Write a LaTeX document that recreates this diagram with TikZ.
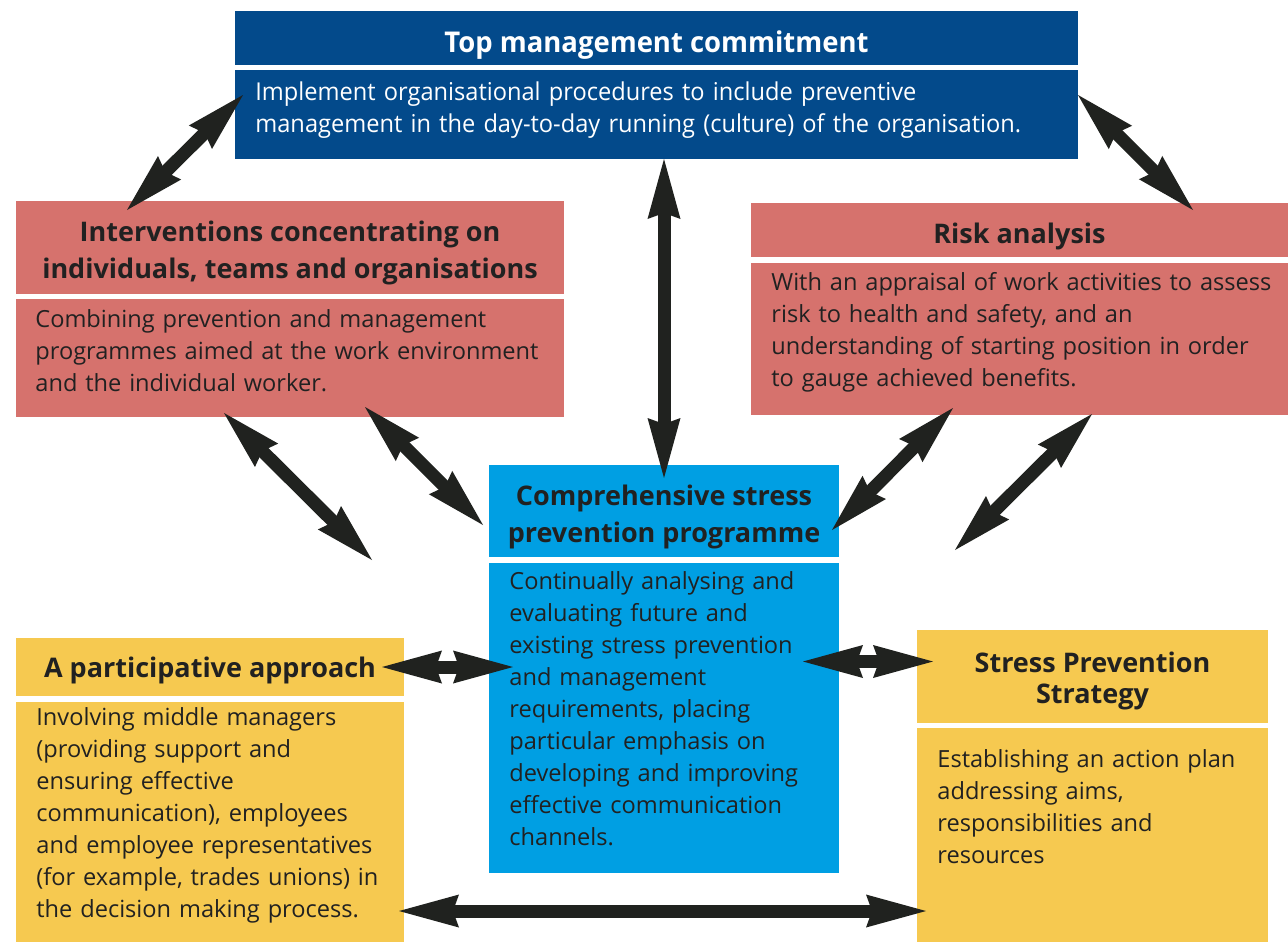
\documentclass[tikz,border=0pt]{standalone}
\usepackage{fontspec}
\setmainfont{Open Sans}
\newfontfamily\narrowsans[FakeStretch=0.96]{Open Sans}
\usetikzlibrary{arrows.meta,calc}

\definecolor{mgmtblue}{RGB}{3,74,139}
\definecolor{riskred}{RGB}{214,114,109}
\definecolor{progblue}{RGB}{0,159,227}
\definecolor{partyellow}{RGB}{246,201,80}
\definecolor{arrowink}{RGB}{32,34,31}
\definecolor{ink}{RGB}{33,33,33}

\tikzset{
  panel/.style={anchor=north west,inner sep=0pt,outer sep=0pt},
  headtitle/.style={inner sep=0pt,align=center,text=ink,font=\bfseries\fontsize{13.5}{18.5}\selectfont},
  bodytxt/.style={anchor=base west,inner sep=0pt,align=left,text width=300pt,
    text=ink,font=\fontsize{11.8}{16}\selectfont},
  dbl/.style={draw=arrowink,line width=6.5pt,
    {Stealth[length=30pt,width=16.5pt,inset=3pt,line width=0pt]}-{Stealth[length=30pt,width=16.5pt,inset=3pt,line width=0pt]}},
}

\begin{document}
\begin{tikzpicture}[x=0.5pt,y=-0.5pt]
\useasboundingbox (0,0) rectangle (1288,942);

% top management commitment
\node[panel,fill=mgmtblue,minimum width=421.5pt,minimum height=27pt] (tophead) at (235,11) {};
\node[headtitle,text=white,font=\narrowsans\bfseries\fontsize{14.3}{18}\selectfont] (toptitle)
  at ($(tophead.center)+(0,7)$) {Top management commitment};
\node[panel,fill=mgmtblue,minimum width=421.5pt,minimum height=44.5pt] (topbody) at (235,70) {};
\node[bodytxt,text width=410pt,text=white,font=\narrowsans\fontsize{12.3}{16}\selectfont] (toptxt)
  at ($(topbody.north west)+(20,30)$)
  {Implement organisational procedures to include preventive\\
   management in the day-to-day running (culture) of the organisation.};

% interventions
\node[panel,fill=riskred,minimum width=274pt,minimum height=46.5pt] (inthead) at (16,201) {};
\node[headtitle] (inttitle) at ($(inthead.center)+(0,5)$)
  {Interventions concentrating on\\individuals, teams and organisations};
\node[panel,fill=riskred,minimum width=274pt,minimum height=59pt] (intbody) at (16,299) {};
\node[bodytxt] (inttxt) at ($(intbody.north west)+(19,28)$)
  {Combining prevention and management\\
   programmes aimed at the work environment\\
   and the individual worker.};

% risk analysis
\node[panel,fill=riskred,minimum width=268.5pt,minimum height=27pt] (riskhead) at (751,203) {};
\node[headtitle] (risktitle) at ($(riskhead.center)+(0,6)$) {Risk analysis};
\node[panel,fill=riskred,minimum width=268.5pt,minimum height=76pt] (riskbody) at (751,263) {};
\node[bodytxt] (risktxt) at ($(riskbody.north west)+(20,27)$)
  {With an appraisal of work activities to assess\\
   risk to health and safety, and an\\
   understanding of starting position in order\\
   to gauge achieved benefits.};

% comprehensive programme
\node[panel,fill=progblue,minimum width=175pt,minimum height=46pt] (comphead) at (489,465) {};
\node[headtitle] (comptitle) at ($(comphead.center)+(0,6)$)
  {Comprehensive stress\\prevention programme};
\node[panel,fill=progblue,minimum width=175pt,minimum height=155pt] (compbody) at (489,563) {};
\node[bodytxt] (comptxt) at ($(compbody.north west)+(20,26)$)
  {Continually analysing and\\
   evaluating future and\\
   existing stress prevention\\
   and management\\
   requirements, placing\\
   particular emphasis on\\
   developing and improving\\
   effective communication\\
   channels.};

% participative approach
\node[panel,fill=partyellow,minimum width=194pt,minimum height=29pt] (parthead) at (16,638) {};
\node[headtitle] (parttitle) at ($(parthead.center)+(0,3)$) {A participative approach};
\node[panel,fill=partyellow,minimum width=194pt,minimum height=120pt] (partbody) at (16,702) {};
\node[bodytxt] (parttxt) at ($(partbody.north west)+(20,23)$)
  {Involving middle managers\\
   (providing support and\\
   ensuring effective\\
   communication), employees\\
   and employee representatives\\
   (for example, trades unions) in\\
   the decision making process.};

% strategy
\node[panel,fill=partyellow,minimum width=175.5pt,minimum height=46.5pt] (strathead) at (917,630) {};
\node[headtitle,font=\bfseries\fontsize{13.5}{15.5}\selectfont] (strattitle)
  at ($(strathead.center)+(0,4)$) {Stress Prevention\\Strategy};
\node[panel,fill=partyellow,minimum width=175.5pt,minimum height=107pt] (stratbody) at (917,728) {};
\node[bodytxt] (strattxt) at ($(stratbody.north west)+(20,39)$)
  {Establishing an action plan\\
   addressing aims,\\
   responsibilities and\\
   resources};

% loose arrow ends
\coordinate (lfree) at (372,560);
\coordinate (rfree) at (955,550);

% two-way arrows
\draw[dbl] ($(inthead.north west)+(111,9)$) -- ($(topbody.north west)+(8,25)$);
\draw[dbl] ($(topbody.north east)+(0,25)$) -- ($(riskhead.north west)+(442,7)$);
\draw[dbl] (comphead.north |- topbody.south) -- ($(comphead.north)+(0,13)$);
\draw[dbl] ($(intbody.south west)+(208,-4)$) -- (lfree);
\draw[dbl] ($(intbody.south west)+(349,-10)$) -- ($(comphead.south west)+(-6,-32)$);
\draw[dbl] ($(riskbody.south west)+(202,-7)$) -- ($(comphead.south east)+(-7,-27)$);
\draw[dbl] ($(riskbody.south west)+(341,-1)$) -- (rfree);
\draw[dbl] ($(parthead.east)+(-22,0)$) -- ($(compbody.west |- parthead.east)+(24,0)$);
\draw[dbl] ($(compbody.east |- strathead.west)+(-36,-15)$) -- ($(strathead.west)+(16,-15)$);
\draw[dbl] ($(partbody.south east)+(-5,-31)$) -- ($(stratbody.south west)+(9,-31)$);
\end{tikzpicture}
\end{document}
